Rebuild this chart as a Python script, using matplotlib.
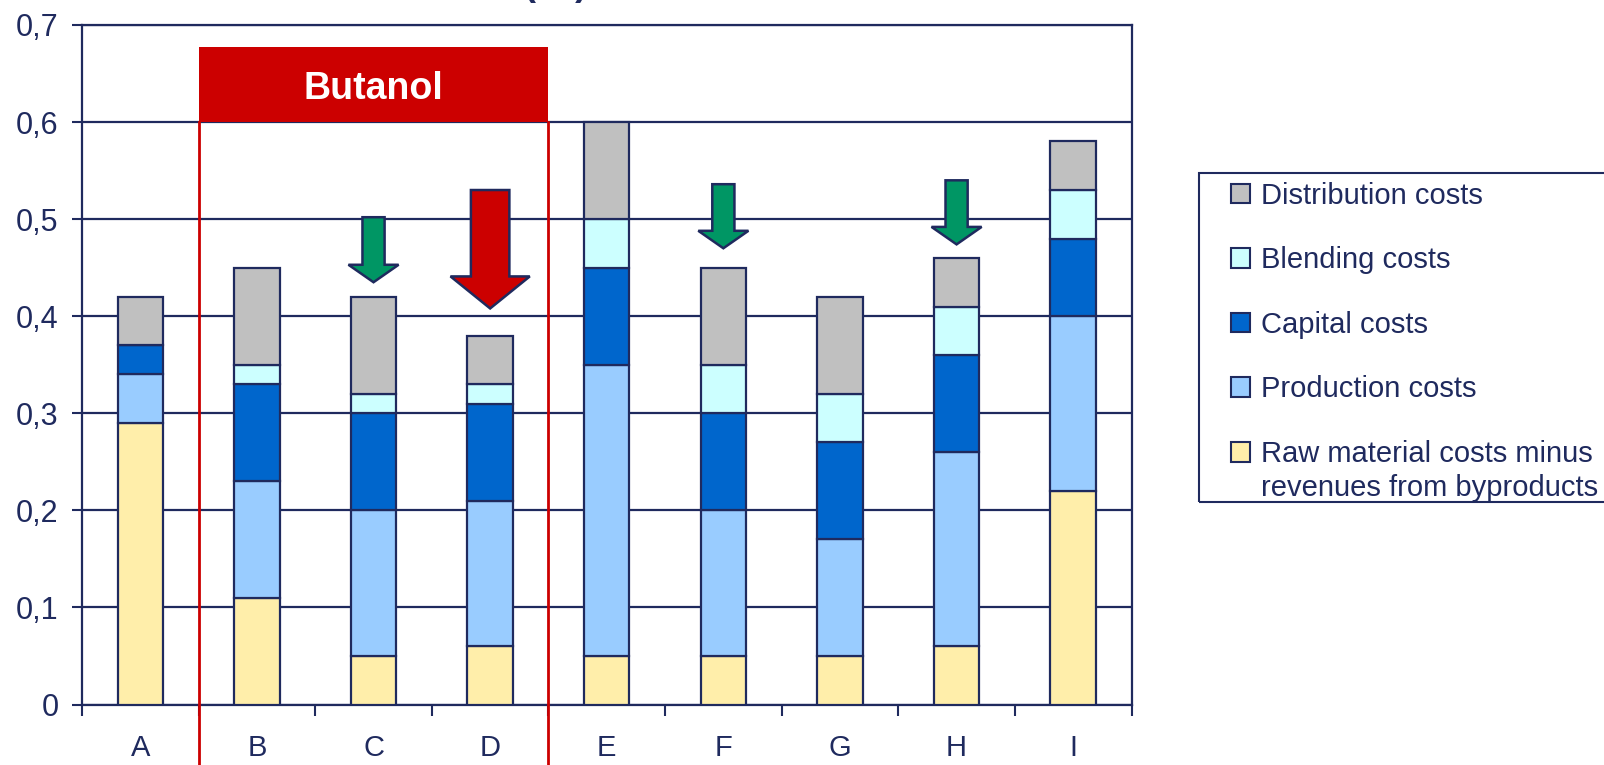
import matplotlib.pyplot as plt
from matplotlib.patches import Patch, Rectangle
from matplotlib.legend_handler import HandlerPatch
from matplotlib.ticker import FuncFormatter, MultipleLocator

plt.rcParams['font.family'] = ['Liberation Sans', 'DejaVu Sans']

categories = ['A', 'B', 'C', 'D', 'E', 'F', 'G', 'H', 'I']
raw_material = [0.29, 0.11, 0.05, 0.06, 0.05, 0.05, 0.05, 0.06, 0.22]
production = [0.05, 0.12, 0.15, 0.15, 0.30, 0.15, 0.12, 0.20, 0.18]
capital = [0.03, 0.10, 0.10, 0.10, 0.10, 0.10, 0.10, 0.10, 0.08]
blending = [0.00, 0.02, 0.02, 0.02, 0.05, 0.05, 0.05, 0.05, 0.05]
distribution = [0.05, 0.10, 0.10, 0.05, 0.10, 0.10, 0.10, 0.05, 0.05]

series = [
    ('Raw material costs minus\nrevenues from byproducts', raw_material, '#FFEEAA'),
    ('Production costs', production, '#99CCFF'),
    ('Capital costs', capital, '#0066CC'),
    ('Blending costs', blending, '#CCFFFF'),
    ('Distribution costs', distribution, '#C0C0C0'),
]

# arrows above some of the bars: category, top of shaft, tip
arrow_cats = ['C', 'D', 'F', 'H']
arrow_top = [0.502, 0.530, 0.536, 0.540]
arrow_tip = [0.435, 0.408, 0.470, 0.474]
arrow_big = [False, True, False, False]

butanol_group = ['B', 'C', 'D']
butanol_top = 0.677

navy = '#1F2A5E'
red = '#CC0000'
green = '#009664'


class FirstLineHandler(HandlerPatch):
    # keep the square level with the first line of a two-line label
    def create_artists(self, legend, orig_handle, xdescent, ydescent,
                       width, height, fontsize, trans):
        return super().create_artists(legend, orig_handle, xdescent,
                                      ydescent - 0.68 * fontsize, width, height,
                                      fontsize, trans)


fig = plt.figure(figsize=(16.04, 7.65), dpi=100)
ax = fig.add_axes([82 / 1604, 1 - 704.5 / 765, (1131.5 - 82) / 1604, (704.5 - 25) / 765])

x = list(range(len(categories)))
bottom = [0.0] * len(categories)
for label, vals, color in series:
    ax.bar(x, vals, 0.39, bottom=bottom, color=color, edgecolor=navy,
           linewidth=1.6, zorder=3)
    bottom = [b + v for b, v in zip(bottom, vals)]

ax.set_xlim(-0.5, len(categories) - 0.5)
ax.set_ylim(0, 0.7)

ax.yaxis.set_major_locator(MultipleLocator(0.1))
ax.yaxis.set_major_formatter(FuncFormatter(lambda v, p: ('%g' % round(v, 1)).replace('.', ',')))
ax.grid(axis='y', color=navy, linewidth=1.6, zorder=1)
ax.set_axisbelow(True)

ax.set_xticks(x)
ax.set_xticklabels(categories)
ax.set_xticks([i - 0.5 for i in range(len(categories) + 1)], minor=True)
ax.tick_params(axis='x', which='major', length=0, pad=21, labelsize=21, labelcolor=navy)
ax.tick_params(axis='x', which='minor', length=8, width=1.5, color=navy, direction='out')
ax.tick_params(axis='y', length=7, width=1.5, color=navy, direction='out', pad=10,
               labelsize=22, labelcolor=navy)
for s in ax.spines.values():
    s.set_color(navy)
    s.set_linewidth(1.6)

# Butanol bracket
i0 = categories.index(butanol_group[0]) - 0.5
i1 = categories.index(butanol_group[-1]) + 0.5
ax.add_patch(Rectangle((i0, 0.6), i1 - i0, butanol_top - 0.6, facecolor=red,
                       edgecolor='none', zorder=4, clip_on=False))
ax.text((i0 + i1) / 2, (0.6 + butanol_top) / 2, 'Butanol', color='white',
        fontsize=27, fontweight='bold', ha='center', va='center_baseline', zorder=5)
for xv in (i0, i1):
    ax.plot([xv, xv], [0.6, -0.07], color=red, linewidth=2, zorder=4, clip_on=False)

for cat, top, tip, big in zip(arrow_cats, arrow_top, arrow_tip, arrow_big):
    xi = categories.index(cat)
    if big:
        w, hw, hl, fc = 0.33, 0.68, 0.033, red
    else:
        w, hw, hl, fc = 0.19, 0.43, 0.018, green
    ax.arrow(xi, top, 0, tip - top, width=w, head_width=hw, head_length=hl,
             length_includes_head=True, facecolor=fc, edgecolor=navy,
             linewidth=1.8, zorder=5)

# heading sits above the top edge, only its brackets reach into view
fig.text(555 / 1604, 1 + 5 / 765, '(€/l)', fontsize=26, fontweight='bold',
         color=navy, ha='center', va='baseline')

# legend with its own frame running off the right edge
fig.add_artist(Rectangle((1199 / 1604, 1 - 502 / 765), 0.5, (502 - 173) / 765,
                         transform=fig.transFigure, fill=False, edgecolor=navy,
                         linewidth=1.5))
handles = [Patch(facecolor=c, edgecolor=navy, linewidth=1.5, label=l)
           for l, v, c in reversed(series)]
leg = fig.legend(handles=handles, loc='upper left', bbox_to_anchor=(1231 / 1604, 1 - 182 / 765),
                 frameon=False, fontsize=21, labelcolor=navy, borderpad=0, borderaxespad=0,
                 handlelength=0.65, handleheight=0.65, handletextpad=0.38, labelspacing=1.25,
                 handler_map={handles[-1]: FirstLineHandler()})
leg.get_texts()[-1].set_linespacing(1.3)

fig.savefig('out.png', dpi=100)
